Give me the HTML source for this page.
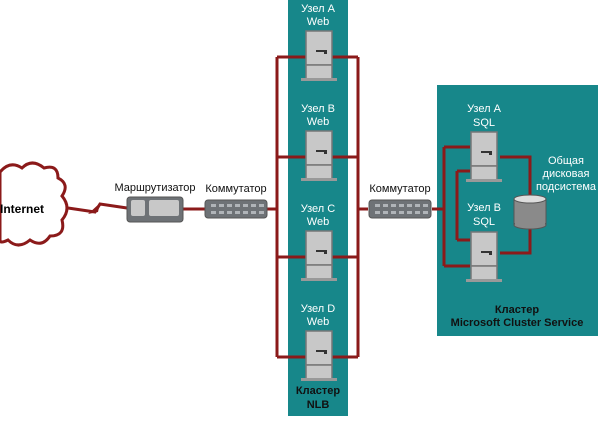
<!DOCTYPE html>
<html><head><meta charset="utf-8"><style>
body{margin:0;background:#fff;}
</style></head><body>
<svg width="600" height="416" viewBox="0 0 600 416" xmlns="http://www.w3.org/2000/svg" font-family="Liberation Sans, Arial, sans-serif">
<defs>
<g id="srv">
 <rect x="0" y="0" width="26" height="34" fill="#c8c8c8" stroke="#777" stroke-width="1.5"/>
 <rect x="0" y="34" width="26" height="14" fill="#c8c8c8" stroke="#777" stroke-width="1.5"/>
 <rect x="-5" y="47" width="36" height="3" fill="#999"/>
 <rect x="10" y="19" width="10" height="2" fill="#333"/><rect x="18" y="19" width="3" height="4" fill="#333"/>
</g>
<g id="sw">
 <rect x="0" y="0" width="62" height="18" rx="3" fill="#6e7276" stroke="#555"/>
 <g fill="#b0b4b8">
 <rect x="6" y="4" width="5" height="3"/><rect x="14" y="4" width="5" height="3"/><rect x="22" y="4" width="5" height="3"/><rect x="30" y="4" width="5" height="3"/><rect x="38" y="4" width="5" height="3"/><rect x="46" y="4" width="5" height="3"/><rect x="54" y="4" width="5" height="3"/>
 <rect x="6" y="11" width="5" height="3"/><rect x="14" y="11" width="5" height="3"/><rect x="22" y="11" width="5" height="3"/><rect x="30" y="11" width="5" height="3"/><rect x="38" y="11" width="5" height="3"/><rect x="46" y="11" width="5" height="3"/><rect x="54" y="11" width="5" height="3"/>
 </g>
</g>
</defs>
<!-- NLB column -->
<rect x="288" y="0" width="60" height="416" fill="#17878a"/>
<!-- SQL cluster -->
<rect x="437" y="85" width="161" height="251" fill="#17878a"/>
<g stroke="#8b1a1a" stroke-width="3" fill="none">
 <!-- NLB loops -->
 <path d="M277 57 H358 M277 157 H358 M277 257 H358 M277 357 H358 M277 57 V357 M358 57 V357"/>
 <path d="M266 209 H277 M358 209 H368"/>
 <path d="M183 209 H205"/>
 <!-- SQL -->
 <path d="M432 209 H444 M444 147 V266 M444 147 H470 M444 266 H470"/>
 <path d="M457 171 V240 M457 171 H470 M457 240 H470"/>
 <path d="M500 157 H530 V196 M530 226 V253 H500"/>
 <!-- lightning -->
 <path d="M68 208 L95 212 L100 204 L127 208"/>
</g>
<polygon points="88,214 100,203 98,212" fill="#8b1a1a"/>
<!-- cloud -->
<path d="M0 172 Q10 160 22 168 Q32 158 44 168 Q58 164 58 178 Q70 184 62 196 Q72 208 62 220 Q66 236 50 236 Q42 248 30 240 Q18 250 8 240 Q0 244 0 240 Z" fill="#fff" stroke="#8b1a1a" stroke-width="3"/>
<text x="22" y="213" font-size="12" font-weight="bold" text-anchor="middle" font-family="Liberation Sans Narrow, Liberation Sans, sans-serif">Internet</text>
<!-- router -->
<rect x="127" y="197" width="56" height="25" rx="3" fill="#6e7276" stroke="#555"/>
<rect x="131" y="200" width="14" height="16" rx="2" fill="#c8c8c8"/>
<rect x="149" y="200" width="30" height="16" rx="2" fill="#c8c8c8"/>
<use href="#sw" x="205" y="200"/>
<use href="#sw" x="369" y="200"/>
<g font-size="11" fill="#111">
 <text x="155" y="191" text-anchor="middle">Маршрутизатор</text>
 <text x="236" y="192" text-anchor="middle">Коммутатор</text>
 <text x="400" y="192" text-anchor="middle">Коммутатор</text>
</g>
<!-- web servers -->
<use href="#srv" x="306" y="31"/>
<use href="#srv" x="306" y="131"/>
<use href="#srv" x="306" y="231"/>
<use href="#srv" x="306" y="331"/>
<g font-size="11" fill="#fff" text-anchor="middle">
 <text x="318" y="12">Узел A</text><text x="318" y="25">Web</text>
 <text x="318" y="112">Узел B</text><text x="318" y="125">Web</text>
 <text x="318" y="212">Узел C</text><text x="318" y="225">Web</text>
 <text x="318" y="312">Узел D</text><text x="318" y="325">Web</text>
 <text x="484" y="112">Узел A</text><text x="484" y="126">SQL</text>
 <text x="484" y="211">Узел B</text><text x="484" y="225">SQL</text>
 <text x="566" y="164">Общая</text><text x="566" y="177">дисковая</text><text x="566" y="190">подсистема</text>
</g>
<g font-size="11" font-weight="bold" fill="#111" text-anchor="middle">
 <text x="318" y="394">Кластер</text><text x="318" y="408">NLB</text>
 <text x="517" y="313">Кластер</text><text x="517" y="326">Microsoft Cluster Service</text>
</g>
<use href="#srv" x="471" y="132"/>
<use href="#srv" x="471" y="232"/>
<!-- disk -->
<rect x="514" y="199" width="32" height="26" fill="#8a8a8a" stroke="#555"/>
<ellipse cx="530" cy="225" rx="16" ry="4" fill="#8a8a8a" stroke="#555"/>
<rect x="515" y="200" width="30" height="24" fill="#8a8a8a"/>
<ellipse cx="530" cy="199" rx="16" ry="4" fill="#ddd" stroke="#555"/>
</svg>
</body></html>
